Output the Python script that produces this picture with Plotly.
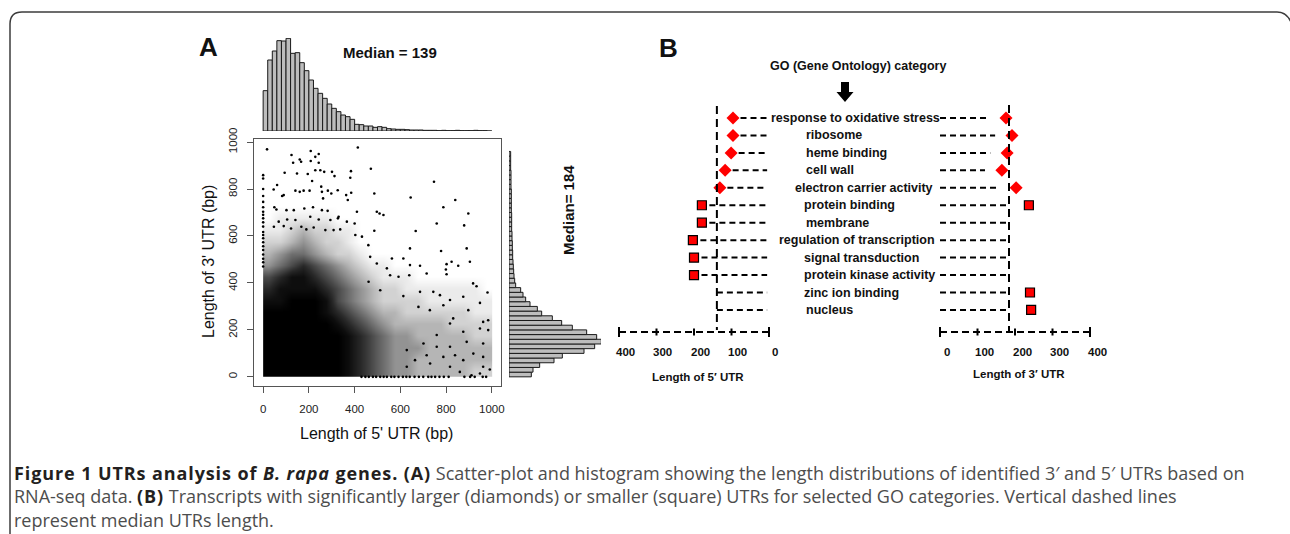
import plotly.graph_objects as go

W, H = 1290, 534

# ---------------- Panel A data ----------------
hist5_bin_width = 20
hist5_counts = [121, 213, 240, 271, 270, 278, 233, 235, 205, 181, 153, 128, 113, 98, 81, 68, 58, 48, 43, 35,
                20, 19, 15, 15, 11, 13, 11, 7, 6, 5, 5, 4, 3, 3, 3, 2, 2, 2, 1, 2, 1, 1, 2, 1, 1, 1, 2, 1, 1, 0]
hist3_bin_width = 20
hist3_counts = [67, 72, 92, 135, 160, 225, 257, 277, 263, 233, 190, 158, 130, 98, 85, 63, 50, 42, 35, 20,
                17, 15, 14, 13, 12, 11, 11, 10, 10, 9, 9, 8, 8, 8, 8, 7, 7, 7, 7, 7, 6, 6, 6, 6, 5, 5, 5, 5]

# point density (0-9) of the scatter cloud in 50 bp x 50 bp cells, rows = 3'UTR bins from 0 upwards
density_cell = 50
density_rows = [
    "99999998765443333322",
    "99999998765443333333",
    "99999998765444333333",
    "99999998765443333322",
    "99999987654333332222",
    "99999876543322222211",
    "88999865432222111111",
    "78888765432211111110",
    "67887654321110000000",
    "45676543211000000000",
    "34554322100000000000",
    "22343221000000000000",
    "11232211000000000000",
    "01111100000000000000",
    "00000000000000000000",
]

# individual (sparse) genes: 5'UTR length, 3'UTR length
sparse_5utr = [17, 124, 208, 243, 228, 160, 166, 131, 208, 243, 414,
               94, 148, 195, 228, 250, 267, 301, 312, 384, 381, 214, 471,
               46, 61, 83, 90, 141, 160, 177, 203, 254, 257, 262, 283, 298, 326, 363, 385, 370, 486,
               747, 645, 840, 788, 897,
               49, 58, 102, 134, 180, 218, 257, 282, 330, 410, 497, 509, 526,
               759, 879,
               68, 105, 141, 206, 243, 294, 327, 366, 400,
               667,
               47, 90, 122, 167, 189, 221, 272, 308, 337, 432, 486, 403,
               890, 778, 642,
               460, 468, 563, 613, 497, 642, 686, 802, 824, 853, 904,
               541, 799, 555, 592, 639, 715, 802,
               918, 933, 981,
               461, 512, 613, 686, 744, 773, 817, 875, 948,
               679, 729, 788, 831, 897, 962, 984,
               817, 875, 948, 984, 759, 701, 817, 890, 962, 788, 875, 962, 991, 817, 730, 664, 628,
               860, 911, 628, 715, 759, 839, 919, 962, 948]
sparse_3utr = [969, 945, 962, 949, 937, 926, 916, 912, 919, 912, 977,
               869, 866, 864, 880, 880, 873, 873, 855, 876, 848, 834, 886,
               798, 817, 770, 774, 793, 788, 793, 793, 810, 788, 760, 793, 781, 795, 774, 784, 753, 781,
               831, 764, 753, 722, 696,
               722, 713, 710, 710, 717, 722, 710, 707, 682, 703, 703, 696, 689,
               653, 645,
               661, 670, 668, 682, 670, 668, 675, 661, 653,
               621,
               639, 642, 632, 639, 628, 636, 625, 625, 628, 597, 622, 604,
               547, 536, 547,
               561, 511, 504, 504, 483, 476, 473, 480, 490, 473, 490,
               462, 457, 433, 426, 433, 440, 437,
               398, 386, 359,
               405, 369, 344, 362, 362, 348, 327, 341, 315,
               298, 284, 305, 249, 284, 234, 199,
               227, 192, 206, 241, 178, 142, 128, 149, 142, 85, 71, 43, 31, 43, 57, 71, 114,
               21, 7, 43, 92, 128, 92, 99, 85, 14]

# genes with a 5'UTR of length 0 (3'UTR lengths) and with a 3'UTR of length 0 (5'UTR lengths)
zero5_3utr = [470, 488, 503, 521, 540, 556, 573, 590, 604, 617, 640, 658, 675, 690, 703, 722, 745, 770, 800, 845, 859]
zero3_5utr = [430, 447, 462, 480, 494, 512, 527, 541, 560, 574, 592, 611, 626, 641, 662, 681, 700, 722, 736, 752,
              771, 790, 811, 880, 905, 925, 960, 975]

median_5utr = 139
median_3utr = 184

# ---------------- Panel B data ----------------
go_categories = ["response to oxidative stress", "ribosome", "heme binding", "cell wall",
                 "electron carrier activity", "protein binding", "membrane", "regulation of transcription",
                 "signal transduction", "protein kinase activity", "zinc ion binding", "nucleus"]
utr5_value = [96, 96, 101, 117, 131, 179, 179, 203, 200, 200, None, None]
utr5_kind = ["larger", "larger", "larger", "larger", "larger", "smaller", "smaller", "smaller", "smaller", "smaller", None, None]
utr3_value = [176, 192, 179, 165, 203, 237, None, None, None, None, 240, 243]
utr3_kind = ["larger", "larger", "larger", "larger", "larger", "smaller", None, None, None, None, "smaller", "smaller"]
axis_ticks_B = [0, 100, 200, 300, 400]

# label placement (style): left edge of each category label in pixels
label_left_px = [769, 804, 804, 804, 793, 802, 804, 777, 802, 802, 802, 804]

# ---------------- helpers ----------------
def PX(x):
    return x / W

def PY(y):
    return 1 - y / H

ARIAL = "Liberation Sans, Arial, sans-serif"
fig = go.Figure()

# density heatmap of the scatter cloud
z = [[int(c) for c in row] for row in density_rows]
grey_scale = [[0.0, "#ffffff"], [0.111, "#ebebeb"], [0.222, "#d2d2d2"], [0.333, "#b5b5b5"],
              [0.444, "#939393"], [0.556, "#6e6e6e"], [0.667, "#4a4a4a"], [0.778, "#282828"],
              [0.889, "#0e0e0e"], [1.0, "#000000"]]
fig.add_trace(go.Heatmap(z=z, x0=density_cell / 2, dx=density_cell, y0=density_cell / 2, dy=density_cell,
                         colorscale=grey_scale, zmin=0, zmax=9, showscale=False, zsmooth="best",
                         hoverinfo="skip", xaxis="x", yaxis="y"))
dot = dict(color="black", size=2.6)
fig.add_trace(go.Scatter(x=sparse_5utr, y=sparse_3utr, mode="markers", marker=dot, xaxis="x", yaxis="y"))
fig.add_trace(go.Scatter(x=[0] * len(zero5_3utr), y=zero5_3utr, mode="markers", marker=dot, xaxis="x", yaxis="y"))
fig.add_trace(go.Scatter(x=zero3_5utr, y=[0] * len(zero3_5utr), mode="markers", marker=dot, xaxis="x", yaxis="y"))

# top histogram (5'UTR)
c5 = [hist5_bin_width * i + hist5_bin_width / 2 for i in range(len(hist5_counts))]
fig.add_trace(go.Bar(x=c5, y=hist5_counts, width=hist5_bin_width, xaxis="x2", yaxis="y2",
                     marker=dict(color="#bdbdbd", line=dict(color="#1a1a1a", width=1))))
# right histogram (3'UTR)
c3 = [hist3_bin_width * i + hist3_bin_width / 2 for i in range(len(hist3_counts))]
fig.add_trace(go.Bar(y=c3, x=hist3_counts, width=hist3_bin_width, orientation="h", xaxis="x3", yaxis="y3",
                     marker=dict(color="#bdbdbd", line=dict(color="#1a1a1a", width=1))))

# ---------------- Panel B ----------------
rows = list(range(len(go_categories)))
red = "#ff0000"
for kind, sym, size, line in [("larger", "diamond", 10, dict(width=0)),
                              ("smaller", "square", 9, dict(color="black", width=1.2))]:
    xs = [v for v, k in zip(utr5_value, utr5_kind) if k == kind]
    ys = [r for r, k in zip(rows, utr5_kind) if k == kind]
    fig.add_trace(go.Scatter(x=xs, y=ys, mode="markers", xaxis="x4", yaxis="y4",
                             marker=dict(symbol=sym, size=size, color=red, line=line)))
    xs = [v for v, k in zip(utr3_value, utr3_kind) if k == kind]
    ys = [r for r, k in zip(rows, utr3_kind) if k == kind]
    fig.add_trace(go.Scatter(x=xs, y=ys, mode="markers", xaxis="x5", yaxis="y4",
                             marker=dict(symbol=sym, size=size, color=red, line=line)))

shapes = []
dash_row = dict(color="black", width=2, dash="6px,4px")
gap5, gap3, end5 = 20, 45, 5
for r in rows:
    v5 = utr5_value[r]
    start5 = (v5 - gap5) if v5 is not None else median_5utr
    shapes.append(dict(type="line", xref="x4", yref="y4", x0=start5, x1=end5, y0=r, y1=r, line=dash_row))
    v3 = utr3_value[r]
    if v3 is not None and utr3_kind[r] == "larger":
        stop3 = v3 - gap3
    else:
        stop3 = median_3utr
    shapes.append(dict(type="line", xref="x5", yref="y4", x0=0, x1=stop3, y0=r, y1=r, line=dash_row))

dash_med = dict(color="black", width=2, dash="8px,5px")
shapes.append(dict(type="line", xref="x4", yref="paper", x0=median_5utr, x1=median_5utr,
                   y0=PY(106), y1=PY(330), line=dash_med))
shapes.append(dict(type="line", xref="x5", yref="paper", x0=median_3utr, x1=median_3utr,
                   y0=PY(105), y1=PY(332), line=dash_med))

axis_y = 332
for xr in ["x4", "x5"]:
    shapes.append(dict(type="line", xref=xr, yref="paper", x0=axis_ticks_B[0], x1=axis_ticks_B[-1],
                       y0=PY(axis_y), y1=PY(axis_y), line=dict(color="black", width=2, dash="7px,4px")))
    for t in axis_ticks_B:
        half = 5 if t in (axis_ticks_B[0], axis_ticks_B[-1]) else 3.5
        shapes.append(dict(type="line", xref=xr, yref="paper", x0=t, x1=t,
                           y0=PY(axis_y - half), y1=PY(axis_y + half), line=dict(color="black", width=2)))

# thick down arrow under "GO (Gene Ontology) category"
ax_c = 845
arrow_pts = [(ax_c - 4, 82), (ax_c + 4, 82), (ax_c + 4, 92), (ax_c + 8.5, 92), (ax_c, 102),
             (ax_c - 8.5, 92), (ax_c - 4, 92)]
path = "M " + " L ".join(f"{PX(a):.5f},{PY(b):.5f}" for a, b in arrow_pts) + " Z"
shapes.append(dict(type="path", xref="paper", yref="paper", path=path, fillcolor="black", line=dict(width=0)))

# outer frame
frame_pts = f"M {PX(10)},{PY(540)} L {PX(10)},{PY(24)} Q {PX(10)},{PY(12)} {PX(22)},{PY(12)} " \
            f"L {PX(1277)},{PY(12)} Q {PX(1289)},{PY(12)} {PX(1293)},{PY(28)}"
shapes.append(dict(type="path", xref="paper", yref="paper", path=frame_pts,
                   line=dict(color="#3c3c3c", width=1.5)))

ann = []

def txt(text, x, y, size, xanchor="center", yanchor="middle", angle=0, family=ARIAL, color="#111", xref="paper",
        yref="paper", xshift=0, align="center"):
    ann.append(dict(text=text, x=x, y=y, xref=xref, yref=yref, showarrow=False, xanchor=xanchor,
                    yanchor=yanchor, textangle=angle, xshift=xshift, align=align,
                    font=dict(family=family, size=size, color=color)))

txt("<b>A</b>", PX(208), PY(47), 26)
txt("<b>B</b>", PX(668), PY(48), 26)
txt(f"<b>Median = {median_5utr}</b>", PX(390), PY(52), 15)
txt(f"<b>Median= {median_3utr}</b>", PX(568), PY(210), 15, angle=-90)
txt("Length of 5' UTR (bp)", PX(377), PY(433), 16)
txt("Length of 3' UTR (bp)", PX(208), PY(262), 16, angle=-90)

txt("<b>GO (Gene Ontology) category</b>", PX(858), PY(66), 12.5)
for r, name in enumerate(go_categories):
    txt(f"<b>{name}</b>", PX(label_left_px[r]), r, 12.5, xanchor="left", yref="y4")
for t in axis_ticks_B:
    txt(f"<b>{t}</b>", t, PY(352), 11.5, xref="x4", xshift=6)
    txt(f"<b>{t}</b>", t, PY(352), 11.5, xref="x5", xshift=7)
txt("<b>Length of 5′ UTR</b>", PX(698), PY(377), 11.5)
txt("<b>Length of 3′ UTR</b>", PX(1019), PY(374), 11.5)

CAP = "Open Sans, Noto Sans, sans-serif"
bold_c = "#231f20"
reg_c = "#4d4d4d"
bold_style = f"color:{bold_c};letter-spacing:0.9px"
caption = (f"<span style='{bold_style}'><b>Figure 1 UTRs analysis of <i>B. rapa</i> genes. (A)</b></span> "
           "Scatter-plot and histogram showing the length distributions of identified 3′ and 5′ UTRs based on<br>"
           f"RNA-seq data. <span style='{bold_style}'><b>(B)</b></span> Transcripts with significantly larger "
           "(diamonds) or smaller (square) UTRs for selected GO categories. Vertical dashed lines<br>"
           "represent median UTRs length.")
txt(caption, PX(12), PY(496), 18, xanchor="left", family=CAP, color=reg_c, align="left")

hidden = dict(visible=False, fixedrange=True)
tickfont = dict(family=ARIAL, size=11.5, color="#222")
fig.update_layout(
    width=W, height=H, margin=dict(l=0, r=0, t=0, b=0), showlegend=False,
    paper_bgcolor="white", plot_bgcolor="rgba(0,0,0,0)",
    xaxis=dict(domain=[PX(254), PX(501)], range=[-40, 1040], anchor="y", showgrid=False, zeroline=False,
               showline=True, mirror=True, linecolor="#555", linewidth=1, ticks="outside", ticklen=6,
               tickcolor="#555", tickvals=[0, 200, 400, 600, 800, 1000], tickfont=tickfont, automargin=False,
               ticklabelstandoff=6, fixedrange=True),
    yaxis=dict(domain=[PY(386), PY(139)], range=[-39, 1013], anchor="x", showgrid=False, zeroline=False,
               showline=True, mirror=True, linecolor="#555", linewidth=1, ticks="outside", ticklen=6,
               tickcolor="#555", tickvals=[0, 200, 400, 600, 800, 1000], tickangle=-90, tickfont=tickfont,
               automargin=False, ticklabelstandoff=5, fixedrange=True),
    xaxis2=dict(domain=[PX(254), PX(501)], range=[-40, 1040], anchor="y2", **hidden),
    yaxis2=dict(domain=[PY(131), PY(38)], range=[0, 279], anchor="x2", **hidden),
    xaxis3=dict(domain=[PX(509), PX(601)], range=[0, 276], anchor="y3", **hidden),
    yaxis3=dict(domain=[PY(386), PY(139)], range=[-39, 1013], anchor="x3", **hidden),
    xaxis4=dict(domain=[0, 1], range=[769 / 0.375, (769 - W) / 0.375], anchor="y4", **hidden),
    xaxis5=dict(domain=[0, 1], range=[-940 / 0.375, (W - 940) / 0.375], anchor="y4", overlaying="x4", **hidden),
    yaxis4=dict(domain=[0, 1], range=[(H - 118) / 17.45, -118 / 17.45], anchor="x4", **hidden),
    shapes=shapes, annotations=ann, bargap=0,
)

fig.write_html("out.html", config={"displayModeBar": False, "staticPlot": True},
               post_script="document.body.style.margin='0px';document.body.style.overflow='hidden';")
